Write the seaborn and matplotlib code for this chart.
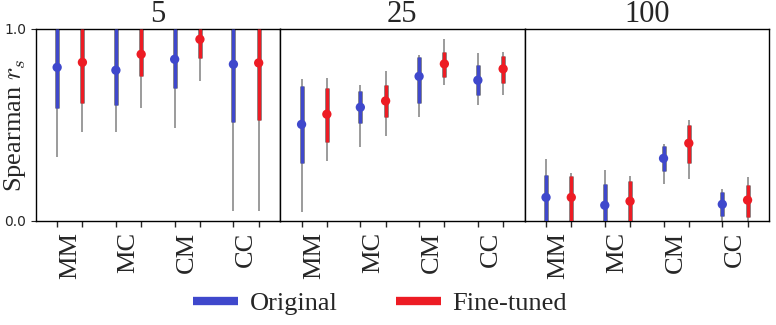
import numpy as np
import pandas as pd
import matplotlib
matplotlib.use("Agg")
import matplotlib.pyplot as plt
import seaborn as sns
from matplotlib.lines import Line2D

# Data
categories = ["MM", "MC", "CM", "CC"]
panels = ["5", "25", "100"]
models = ["Original", "Fine-tuned"]

# rows = panels (5, 25, 100), columns = categories
orig_med = [[0.800, 0.785, 0.842, 0.816], [0.503, 0.592, 0.753, 0.733], [0.123, 0.082, 0.326, 0.087]]
orig_q1 = [[0.590, 0.606, 0.694, 0.517], [0.304, 0.512, 0.616, 0.658], [0.000, 0.000, 0.260, 0.026]]
orig_q3 = [[1.000, 1.000, 1.000, 1.000], [0.703, 0.677, 0.854, 0.813], [0.240, 0.194, 0.390, 0.151]]
orig_lo = [[0.335, 0.465, 0.486, 0.054], [0.045, 0.387, 0.543, 0.606], [0.000, 0.000, 0.194, 0.000]]
orig_hi = [[1.000, 1.000, 1.000, 1.000], [0.738, 0.708, 0.865, 0.875], [0.323, 0.266, 0.400, 0.167]]

ft_med = [[0.826, 0.868, 0.946, 0.823], [0.556, 0.625, 0.818, 0.792], [0.123, 0.103, 0.405, 0.109]]
ft_q1 = [[0.616, 0.757, 0.851, 0.524], [0.413, 0.543, 0.752, 0.720], [0.000, 0.000, 0.302, 0.021]]
ft_q3 = [[1.000, 1.000, 1.000, 1.000], [0.693, 0.708, 0.880, 0.859], [0.234, 0.208, 0.500, 0.188]]
ft_lo = [[0.465, 0.590, 0.728, 0.054], [0.313, 0.444, 0.710, 0.658], [0.000, 0.000, 0.219, 0.000]]
ft_hi = [[1.000, 1.000, 1.000, 1.000], [0.745, 0.781, 0.948, 0.880], [0.250, 0.234, 0.524, 0.229]]

colors = {"Original": "#3f48cc", "Fine-tuned": "#ed1c24"}

# build long table
rows = []
for p, panel in enumerate(panels):
    for c, cat in enumerate(categories):
        rows.append(dict(panel=panel, cat=cat, ci=c, model="Original", med=orig_med[p][c],
                         q1=orig_q1[p][c], q3=orig_q3[p][c], lo=orig_lo[p][c], hi=orig_hi[p][c]))
        rows.append(dict(panel=panel, cat=cat, ci=c, model="Fine-tuned", med=ft_med[p][c],
                         q1=ft_q1[p][c], q3=ft_q3[p][c], lo=ft_lo[p][c], hi=ft_hi[p][c]))
df = pd.DataFrame(rows)
offset = {"Original": -0.215, "Fine-tuned": 0.215}
df["x"] = df["ci"] + df["model"].map(offset)

sns.set_style("ticks")
plt.rcParams["mathtext.fontset"] = "cm"
serif = ["Liberation Serif", "DejaVu Serif"]

fig, axes = plt.subplots(1, 3, figsize=(7.76, 3.25), dpi=100, sharey=True)
fig.subplots_adjust(left=0.046, right=0.991, top=0.911, bottom=0.32, wspace=0)

for ax, panel in zip(axes, panels):
    sub = df[df["panel"] == panel]
    # whiskers
    ax.vlines(sub["x"], sub["lo"], sub["hi"], color="#808080", lw=1.1, zorder=1)
    # interquartile bars
    for m in models:
        s = sub[sub["model"] == m]
        ax.vlines(s["x"], s["q1"], s["q3"], color="#707070", lw=3.3, zorder=2)
        ax.vlines(s["x"], s["q1"], s["q3"], color=colors[m], lw=2.3, zorder=3)
    sns.scatterplot(data=sub, x="x", y="med", hue="model", palette=colors,
                    s=45, edgecolor="none", legend=False, ax=ax, zorder=4)
    ax.set_xlim(-0.58, 3.58)
    ax.set_ylim(0, 1)
    ax.set_xticks(sorted(sub["x"]))
    ax.set_xticklabels([])
    ax.set_xticks(range(len(categories)), minor=True)
    ax.set_xticklabels(categories, minor=True, rotation=90, family=serif, fontsize=19)
    ax.tick_params(axis="x", which="major", length=4, width=1)
    ax.tick_params(axis="x", which="minor", length=0, pad=8)
    ax.set_xlabel("")
    ax.set_ylabel("")
    ax.set_title(panel, family=serif, fontsize=22, pad=0)
    for sp in ax.spines.values():
        sp.set_visible(True)
        sp.set_linewidth(1.0)
        sp.set_color("black")

axes[0].set_yticks([0.0, 1.0])
axes[0].set_yticklabels(["0.0", "1.0"], fontsize=10)
axes[0].set_ylabel("Spearman $r_s$", family=serif, fontsize=19, va="center")
axes[0].yaxis.set_label_coords(-0.085, 0.5)
for ax in axes[1:]:
    ax.tick_params(axis="y", which="both", left=False, labelleft=False)

handles = [Line2D([0], [0], color=colors[m], lw=6, solid_capstyle="butt") for m in models]
fig.legend(handles, models, loc="center", bbox_to_anchor=(0.49, 0.067), ncol=2,
           frameon=False, prop={"family": serif, "size": 19},
           handlelength=1.7, handletextpad=0.45, columnspacing=2.2)

fig.savefig("out.png", dpi=100)
